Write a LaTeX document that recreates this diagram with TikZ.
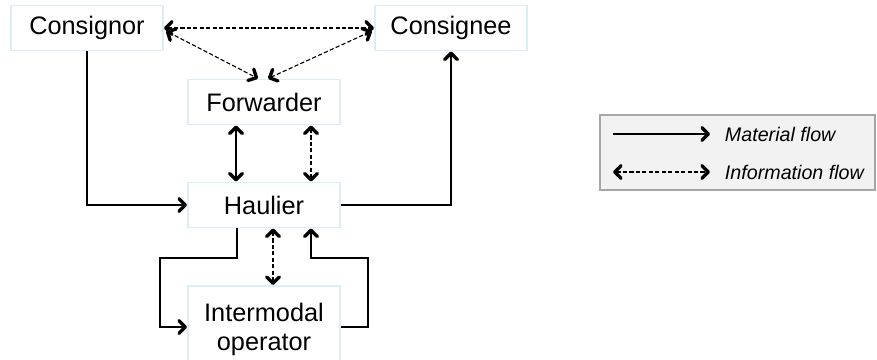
\documentclass[tikz,border=0pt]{standalone}
\usepackage{fontspec}
\setmainfont{Liberation Sans}
\usetikzlibrary{calc, arrows.meta, positioning}
\definecolor{boxborder}{HTML}{DBEEF4}
\definecolor{legendbg}{HTML}{F2F2F2}
\definecolor{legendborder}{HTML}{A6A6A6}

\begin{document}
\begin{tikzpicture}[
    x=0.025cm, y=-0.025cm,
    >={Straight Barb[length=4.5pt, width=9pt, line width=2.4pt, round]},
    font=\fontsize{18}{21}\selectfont,
    actor/.style={draw=boxborder, fill=white, line width=1.4pt, minimum width=3.8cm, minimum height=1.125cm, align=center, inner sep=2pt},
    material/.style={->, line width=1pt},
    info/.style={<->, line width=0.8pt, dash pattern=on 3pt off 1.6pt},
    legendtext/.style={anchor=west, font=\fontsize{14}{16}\selectfont\itshape}
]
    \useasboundingbox (0,0) rectangle (877,360);

    % Actors
    \node[actor] (consignor) at (87, 28) {Consignor};
    \node[actor] (consignee) at (451, 28) {Consignee};
    \node[actor] (forwarder) at (264, 102) {Forwarder};
    \node[actor] (haulier) at (264, 205) {Haulier};
    \node[actor, minimum height=2.05cm, text depth=0pt] (intermodal) at (264, 327) {Intermodal\\operator};

    % Information flows at the top
    \draw[info] (consignor.east) -- (consignee.west);
    \draw[info] ($(consignor.east)+(2,3)$) -- ($(forwarder.north)+(-6,0)$);
    \draw[info] ($(consignee.west)+(-2,3)$) -- ($(forwarder.north)+(4,0)$);

    % Forwarder <-> Haulier
    \draw[<->, line width=1pt] ($(forwarder.south)+(-28,0)$) -- ($(haulier.north)+(-28,0)$);
    \draw[info] ($(forwarder.south)+(47,0)$) -- ($(haulier.north)+(47,0)$);

    % Material flow through the haulier
    \draw[material] (consignor.south) |- (haulier.west);
    \draw[material] (haulier.east) -| (consignee.south);

    % Haulier <-> Intermodal operator
    \coordinate (loopL) at (160, 258);
    \coordinate (loopR) at (368, 258);
    \draw[material] ($(haulier.south)+(-27,0)$) |- (loopL) |- (intermodal.west);
    \draw[material] (intermodal.east) -| (loopR) -| ($(haulier.south)+(47,0)$);
    \draw[info] ($(haulier.south)+(9,0)$) -- ($(intermodal.north)+(9,0)$);

    % Legend
    \fill[legendbg, draw=legendborder, line width=1pt] (600, 115) rectangle (875, 190);
    \coordinate (matA) at (613, 134);
    \coordinate (matB) at (710, 134);
    \coordinate (infA) at (613, 172);
    \coordinate (infB) at (710, 172);
    \draw[material] (matA) -- (matB);
    \draw[info] (infA) -- (infB);
    \node[legendtext] (matlabel) at (720, 134) {Material flow};
    \node[legendtext] (inflabel) at (720, 172) {Information flow};

\end{tikzpicture}
\end{document}
